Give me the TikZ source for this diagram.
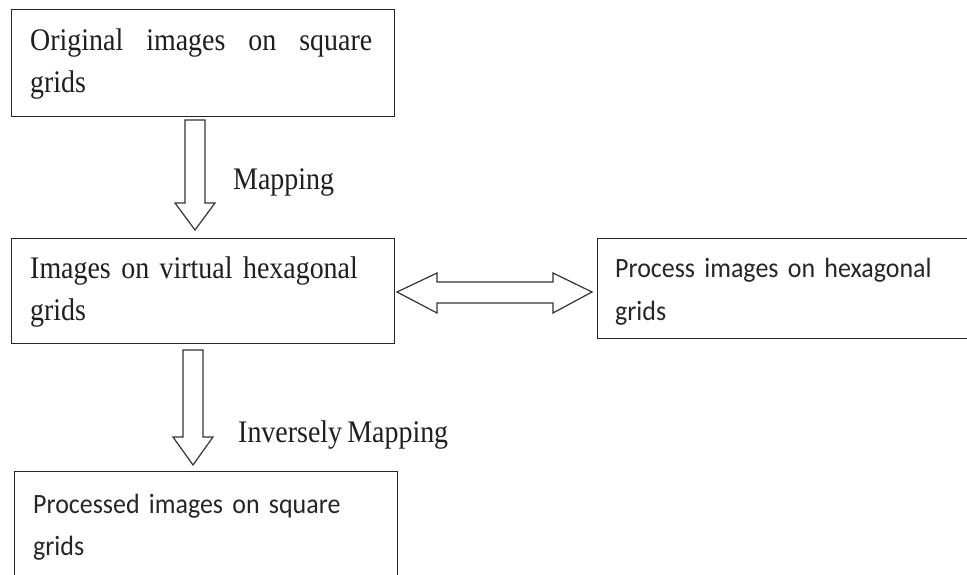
\documentclass[tikz,border=0pt]{standalone}
\usepackage{fontspec}
\setmainfont{Liberation Serif}
\newfontfamily\serifw[FakeStretch=0.89,WordSpace=0.75]{Liberation Serif}
\newfontfamily\calib[FakeStretch=0.93,WordSpace=0.45]{Carlito}
\begin{document}
\begin{tikzpicture}[x=1bp,y=-1bp,
  box/.style={draw=black!85, line width=1.4bp, inner sep=0pt, anchor=north west},
  sertext/.style={text=black!88, font=\serifw\fontsize{31.5}{42}\selectfont, inner sep=0pt, anchor=base west, align=left},
  caltext/.style={text=black!85, font=\calib\fontsize{28}{43}\selectfont, inner sep=0pt, anchor=base west, align=left},
  hollow/.style={draw=black!80, line width=1.2bp, fill=white, line join=miter}]
\clip (0,0) rectangle (967,575);
\fill[white] (0,0) rectangle (967,575);
% boxes
\node[box, minimum width=383bp, minimum height=107bp] (b1) at (11,9) {};
\node[box, minimum width=383bp, minimum height=105bp] (b2) at (11,238) {};
\node[box, minimum width=385bp, minimum height=100bp] (b3) at (597,238) {};
\node[box, minimum width=383bp, minimum height=125bp] (b4) at (14,471) {};
% texts
\node[sertext, text width=342bp] (t1) at (30,51) {Original\hfill images\hfill on\hfill square\\grids};
\node[sertext, text width=350bp] (t2) at (30,279) {Images on virtual hexagonal\\grids};
\node[caltext, text width=345bp] (t3) at (615,278) {Process images on hexagonal\\grids};
\node[caltext, text width=345bp] (t4) at (33,513) {Processed images on square\\grids};
% labels
\node[sertext] (l1) at (233,190) {Mapping};
\node[sertext] (l2) at (238,442) {Inversely Mapping};
% hollow arrows
\draw[hollow] (185,120) -- (205,120) -- (205,203) -- (215,203) -- (195,230) -- (175,203) -- (185,203) -- cycle;
\draw[hollow] (183,350) -- (203,350) -- (203,437) -- (213,437) -- (193,465) -- (173,437) -- (183,437) -- cycle;
\draw[hollow] (397,292) -- (437,273) -- (437,282) -- (553,282) -- (553,273) -- (592,292) -- (553,313) -- (553,303) -- (437,303) -- (437,313) -- cycle;
\end{tikzpicture}
\end{document}
